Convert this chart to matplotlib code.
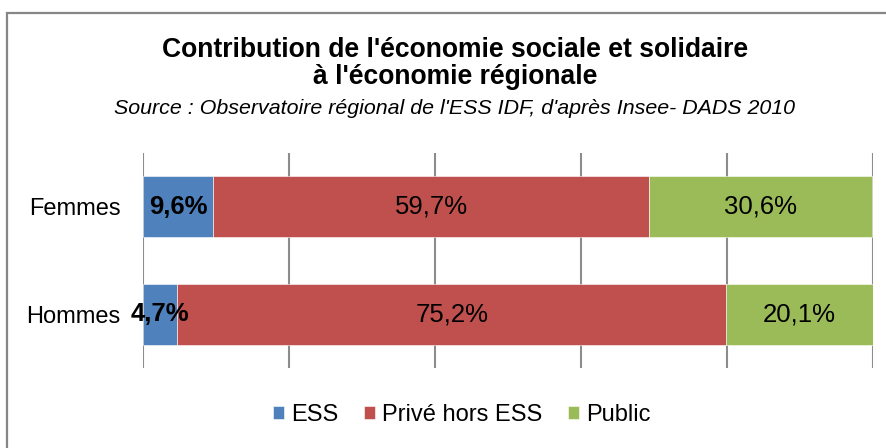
import matplotlib
matplotlib.use("Agg")
import matplotlib.pyplot as plt
from matplotlib.patches import Rectangle

plt.rcParams['font.family'] = ['Liberation Sans', 'DejaVu Sans']

categories = ["Femmes", "Hommes"]
series_names = ["ESS", "Privé hors ESS", "Public"]
ess = [9.6, 4.7]
prive = [59.7, 75.2]
public = [30.6, 20.1]
labels_ess = ["9,6%", "4,7%"]
labels_prive = ["59,7%", "75,2%"]
labels_public = ["30,6%", "20,1%"]
colors = ["#4F81BD", "#C0504D", "#9BBB59"]

W, H = 887, 448
fig = plt.figure(figsize=(W / 100, H / 100), dpi=100)
fig.patches.append(Rectangle((7.5 / W, -0.1), 1.0, (448 - 13.5) / H + 0.1, transform=fig.transFigure,
                             fill=False, edgecolor="#868686", linewidth=1.6))

ax = fig.add_axes([143 / W, (448 - 368) / H, 730 / W, 215 / H])
y = list(range(len(categories)))
h = 0.565
left = [0.0] * len(categories)
for vals, labs, col, name, bold in [(ess, labels_ess, colors[0], series_names[0], True),
                                    (prive, labels_prive, colors[1], series_names[1], False),
                                    (public, labels_public, colors[2], series_names[2], False)]:
    ax.barh(y, vals, left=left, height=h, color=col, label=name,
            edgecolor="white", linewidth=0.4, zorder=3)
    for i, (v, lab) in enumerate(zip(vals, labs)):
        ax.text(left[i] + v / 2, y[i], lab, ha="center", va="center", fontsize=18.5,
                fontweight="bold" if bold else "normal", color="black", zorder=5)
    left = [l + v for l, v in zip(left, vals)]

ax.set_xlim(0, 100)
ax.set_ylim(1.5, -0.5)
ax.set_xticks([0, 20, 40, 60, 80, 100])
ax.set_xticklabels([])
ax.tick_params(axis="x", length=0)
ax.set_yticks(y)
ax.set_yticklabels(categories, fontsize=17)
ax.tick_params(axis="y", length=0, pad=16)
ax.grid(axis="x", color="#8C8C8C", linewidth=1.5, zorder=0)
for s in ax.spines.values():
    s.set_visible(False)

cx = 455 / W
fig.text(cx, 1 - 50 / H, "Contribution de l'économie sociale et solidaire",
         ha="center", va="center", fontsize=19.1, fontweight="bold")
fig.text(cx, 1 - 77 / H, "à l'économie régionale",
         ha="center", va="center", fontsize=19.1, fontweight="bold")
fig.text(cx, 1 - 109 / H, "Source : Observatoire régional de l'ESS IDF, d'après Insee- DADS 2010",
         ha="center", va="center", fontsize=15.4, fontstyle="italic")

handles, lbls = ax.get_legend_handles_labels()
fig.legend(handles, lbls, loc="center", bbox_to_anchor=(462 / W, 1 - 415 / H), ncol=3,
           frameon=False, fontsize=17, handlelength=0.45, handleheight=0.45,
           handletextpad=0.3, columnspacing=1.1)

fig.savefig("out.png", dpi=100)
